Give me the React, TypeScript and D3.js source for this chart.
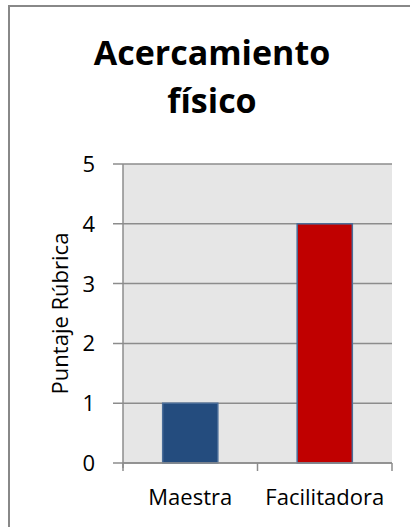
import React, { useEffect, useRef } from "react";
import * as d3 from "d3";

const categories = ["Maestra", "Facilitadora"];
const scores = [1, 4];
const barColors = ["#244C7E", "#C00000"];
const yTicks = [0, 1, 2, 3, 4, 5];

const App: React.FC = () => {
  const svgRef = useRef<SVGSVGElement | null>(null);

  useEffect(() => {
    const width = 410;
    const height = 527;
    const margin = { top: 164, right: 18, bottom: 64, left: 123 };
    const font = "'Open Sans', sans-serif";

    const svg = d3.select(svgRef.current);
    svg.selectAll("*").remove();

    // outer frame (only top/left visible in the crop)
    svg
      .append("rect")
      .attr("x", 9)
      .attr("y", 6)
      .attr("width", width + 20)
      .attr("height", height + 20)
      .attr("fill", "white")
      .attr("stroke", "#888")
      .attr("stroke-width", 2);

    const x = d3
      .scaleBand()
      .domain(categories)
      .range([margin.left, width - margin.right])
      .paddingInner(0.59)
      .paddingOuter(0.295);

    const y = d3
      .scaleLinear()
      .domain([0, 5])
      .range([height - margin.bottom, margin.top]);

    // plot background
    svg
      .append("rect")
      .attr("x", margin.left)
      .attr("y", margin.top)
      .attr("width", width - margin.right - margin.left)
      .attr("height", height - margin.bottom - margin.top)
      .attr("fill", "#E6E6E6");

    // gridlines + y ticks
    svg
      .append("g")
      .selectAll("line")
      .data(yTicks)
      .enter()
      .append("line")
      .attr("x1", margin.left - 10)
      .attr("x2", width - margin.right)
      .attr("y1", (d) => y(d))
      .attr("y2", (d) => y(d))
      .attr("stroke", "#8C8C8C")
      .attr("stroke-width", 1.5);

    svg
      .append("g")
      .selectAll("text")
      .data(yTicks)
      .enter()
      .append("text")
      .attr("x", 95)
      .attr("y", (d) => y(d))
      .attr("dy", "0.36em")
      .attr("text-anchor", "end")
      .attr("font-family", font)
      .attr("font-size", 22)
      .text((d) => d);

    // y axis line
    svg
      .append("line")
      .attr("x1", margin.left)
      .attr("x2", margin.left)
      .attr("y1", margin.top)
      .attr("y2", height - margin.bottom + 5)
      .attr("stroke", "#8C8C8C")
      .attr("stroke-width", 1.5);

    // bars
    svg
      .selectAll("rect.bar")
      .data(scores)
      .enter()
      .append("rect")
      .attr("class", "bar")
      .attr("x", (d, i) => x(categories[i])!)
      .attr("y", (d) => y(d))
      .attr("width", x.bandwidth())
      .attr("height", (d) => y(0) - y(d))
      .attr("fill", (d, i) => barColors[i])
      .attr("stroke", "#4A6D99")
      .attr("stroke-width", 1.5);

    // x axis
    svg
      .append("line")
      .attr("x1", margin.left)
      .attr("x2", width - margin.right)
      .attr("y1", y(0))
      .attr("y2", y(0))
      .attr("stroke", "#8C8C8C")
      .attr("stroke-width", 1.5);

    const step = x.step();
    const bounds = [0, 1, 2].map((i) => margin.left + i * step);
    svg
      .append("g")
      .selectAll("line")
      .data(bounds)
      .enter()
      .append("line")
      .attr("x1", (d) => d)
      .attr("x2", (d) => d)
      .attr("y1", y(0))
      .attr("y2", y(0) + 8)
      .attr("stroke", "#8C8C8C")
      .attr("stroke-width", 1.5);

    svg
      .append("g")
      .selectAll("text")
      .data(categories)
      .enter()
      .append("text")
      .attr("x", (d) => x(d)! + x.bandwidth() / 2)
      .attr("y", y(0) + 42)
      .attr("text-anchor", "middle")
      .attr("font-family", font)
      .attr("font-size", 22)
      .text((d) => d);

    // y label
    svg
      .append("text")
      .attr("transform", `translate(68, ${(y(0) + y(5)) / 2}) rotate(-90)`)
      .attr("text-anchor", "middle")
      .attr("font-family", font)
      .attr("font-size", 22)
      .text("Puntaje Rúbrica");

    // title
    const title = svg
      .append("text")
      .attr("text-anchor", "middle")
      .attr("font-family", font)
      .attr("font-weight", "bold")
      .attr("font-size", 34);
    title.append("tspan").attr("x", 212).attr("y", 65).text("Acercamiento");
    title.append("tspan").attr("x", 212).attr("y", 113).text("físico");
  }, []);

  return (
    <svg
      ref={svgRef}
      width={410}
      height={527}
      style={{ position: "absolute", left: 0, top: 0 }}
    ></svg>
  );
};

export default App;
